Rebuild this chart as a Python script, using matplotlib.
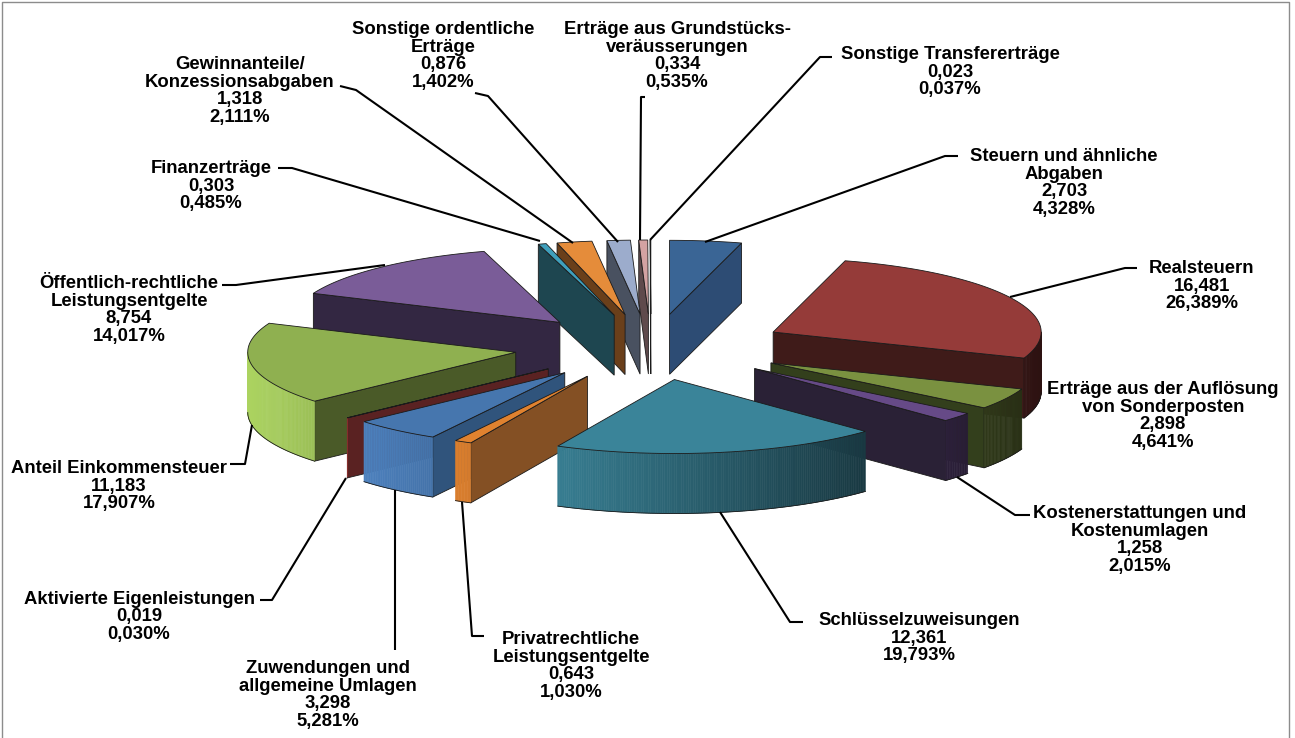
import numpy as np
import matplotlib
matplotlib.use("Agg")
import matplotlib.pyplot as plt
from matplotlib.colors import to_rgb
from matplotlib.patches import Polygon

# Daten, im Uhrzeigersinn ab 12 Uhr
names = ["Steuern und ähnliche\nAbgaben", "Realsteuern",
         "Erträge aus der Auflösung\nvon Sonderposten",
         "Kostenerstattungen und\nKostenumlagen", "Schlüsselzuweisungen",
         "Privatrechtliche\nLeistungsentgelte",
         "Zuwendungen und\nallgemeine Umlagen", "Aktivierte Eigenleistungen",
         "Anteil Einkommensteuer", "Öffentlich-rechtliche\nLeistungsentgelte",
         "Finanzerträge", "Gewinnanteile/\nKonzessionsabgaben",
         "Sonstige ordentliche\nErträge", "Erträge aus Grundstücks-\nveräusserungen",
         "Sonstige Transfererträge"]
values = [2.703, 16.481, 2.898, 1.258, 12.361, 0.643, 3.298, 0.019,
          11.183, 8.754, 0.303, 1.318, 0.876, 0.334, 0.023]
percents = [4.328, 26.389, 4.641, 2.015, 19.793, 1.030, 5.281, 0.030,
            17.907, 14.017, 0.485, 2.111, 1.402, 0.535, 0.037]

top_colors = ["#3a6595", "#953b39", "#7a9140", "#664a87", "#3a8499", "#e0822f",
              "#4676ae", "#7a2a28", "#8fb050", "#7a5c98", "#3f9fbc", "#e58c3a",
              "#9caccc", "#d3a2a2", "#a6b59a"]
cut_colors = ["#2d4c74", "#3f1b19", "#333f1c", "#2a2136", "#1d4450", "#845024",
              "#30547c", "#5a2222", "#4a5a28", "#332742", "#1e4650", "#6a3f1a",
              "#495160", "#5f4a4c", "#8c9488"]

# Lage der Beschriftungen: Textmitte und Fuehrungslinie in Pixeln
label_pos = [(1064, 183), (1202, 286), (1163, 416), (1140, 540), (919, 638),
             (571, 666), (328, 695), (139, 617), (119, 486), (129, 310),
             (211, 186), (240, 91), (443, 56), (677, 56), (950, 72)]
leaders = [[(958, 156), (945, 156), (705, 242)],
           [(1137, 268), (1125, 268), (1010, 297)],
           None,
           [(1030, 515), (1015, 515), (957, 477)],
           [(803, 622), (790, 622), (720, 512)],
           [(484, 636), (472, 636), (462, 502)],
           [(395, 650), (395, 490)],
           [(260, 600), (272, 600), (346, 478)],
           [(230, 464), (245, 464), (252, 425)],
           [(222, 285), (236, 285), (385, 265)],
           [(278, 168), (292, 168), (540, 241)],
           [(340, 86), (356, 90), (573, 243)],
           [(475, 93), (488, 96), (618, 242)],
           [(645, 97), (641, 97), (640, 240)],
           [(832, 57), (820, 57), (650, 240)]]

cx, cy = 651, 347
rx, ry = 268, 74
explode_x, explode_y = 137, 33
depth = 60

plt.rcParams['font.family'] = ['Liberation Sans', 'DejaVu Sans']
fig = plt.figure(figsize=(12.95, 7.38), dpi=100)
ax = fig.add_axes([0, 0, 1, 1])
ax.set_xlim(0, 1295)
ax.set_ylim(738, 0)
ax.axis('off')

edge = "#1a1a1a"


def shade(color, f):
    return tuple(min(1, c * f) for c in to_rgb(color))


def rim(x0, y0, t):
    return x0 + rx * np.sin(t), y0 - ry * np.cos(t)


def draw_wedge(start, end, top, cut, z):
    mid = (start + end) / 2
    x0 = cx + explode_x * np.sin(mid)
    y0 = cy - explode_y * np.cos(mid)
    ts = np.linspace(start, end, max(3, int(np.degrees(end - start)) * 2))
    px, py = rim(x0, y0, ts)
    # Schnittflaechen
    if np.sin(start) < 0:
        sx, sy = rim(x0, y0, start)
        ax.add_patch(Polygon([(x0, y0), (sx, sy), (sx, sy + depth), (x0, y0 + depth)],
                             fc=cut, ec=edge, lw=0.6, zorder=z))
    if np.sin(end) > 0:
        ex, ey = rim(x0, y0, end)
        ax.add_patch(Polygon([(x0, y0), (ex, ey), (ex, ey + depth), (x0, y0 + depth)],
                             fc=cut, ec=edge, lw=0.6, zorder=z))
    # Aussenkante mit Verlauf, links hell, rechts dunkel
    front = np.cos(ts) < 0
    for i in range(len(ts) - 1):
        if front[i] or front[i + 1]:
            f = 0.75 - 0.45 * np.sin((ts[i] + ts[i + 1]) / 2)
            c = shade(top, f)
            ax.add_patch(Polygon([(px[i], py[i]), (px[i + 1], py[i + 1]),
                                  (px[i + 1], py[i + 1] + depth), (px[i], py[i] + depth)],
                                 fc=c, ec=c, lw=0.4, zorder=z + 0.1))
    if front.any():
        ax.plot(px[front], py[front] + depth, color=edge, lw=0.6, zorder=z + 0.2)
    # Deckflaeche
    ax.add_patch(Polygon(np.r_[[(x0, y0)], np.c_[px, py]], fc=top, ec=edge, lw=0.6,
                         zorder=z + 0.3))


bounds = np.cumsum([0] + percents) / sum(percents) * 2 * np.pi
mids = (bounds[:-1] + bounds[1:]) / 2
order = np.argsort(-np.cos(mids))
for z, i in enumerate(order):
    draw_wedge(bounds[i], bounds[i + 1], top_colors[i], cut_colors[i], 2 + z)

for i, name in enumerate(names):
    val = f"{values[i]:.3f}".replace(".", ",")
    pct = f"{percents[i]:.3f}%".replace(".", ",")
    ax.text(label_pos[i][0], label_pos[i][1], f"{name}\n{val}\n{pct}", ha='center', va='center',
            fontsize=13.3, fontweight='bold', color='black', linespacing=1.05, zorder=50)
    if leaders[i]:
        xs, ys = zip(*leaders[i])
        ax.plot(xs, ys, color='black', lw=1.5, zorder=40, solid_capstyle='butt')

# Rahmen
ax.plot([2, 2, 1289, 1289], [738, 2, 2, 738], color='#8c8c8c', lw=1, zorder=60)

fig.savefig("out.png", dpi=100)
